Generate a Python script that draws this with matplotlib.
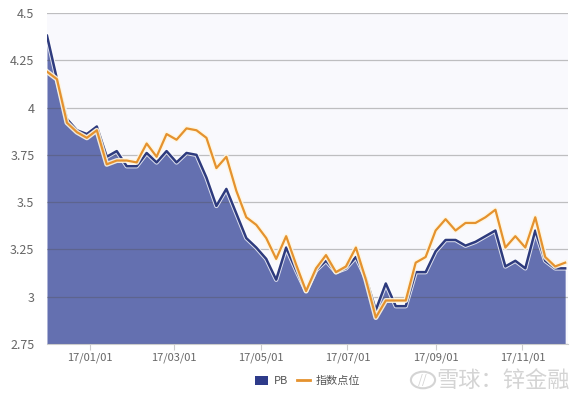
import matplotlib
matplotlib.use("Agg")
import matplotlib.pyplot as plt
import matplotlib.dates as mdates
import matplotlib.patheffects as pe
from matplotlib.patches import FancyBboxPatch, Circle
from matplotlib.lines import Line2D
import numpy as np
import pandas as pd

plt.rcParams['font.family'] = ['Noto Sans CJK SC', 'DejaVu Sans']

start_date = "2016-12-02"
pb = [4.38, 4.15, 3.94, 3.88, 3.86, 3.90, 3.74, 3.77, 3.69, 3.69,
      3.76, 3.71, 3.77, 3.71, 3.76, 3.75, 3.63, 3.48, 3.57, 3.44,
      3.31, 3.26, 3.20, 3.09, 3.26, 3.14, 3.03, 3.14, 3.19, 3.13,
      3.15, 3.21, 3.10, 2.93, 3.07, 2.95, 2.95, 3.13, 3.13, 3.24,
      3.30, 3.30, 3.27, 3.29, 3.32, 3.35, 3.16, 3.19, 3.15, 3.35,
      3.19, 3.15, 3.15]
index_pts = [4.19, 4.15, 3.92, 3.87, 3.84, 3.88, 3.70, 3.72, 3.72, 3.71,
             3.81, 3.74, 3.86, 3.83, 3.89, 3.88, 3.84, 3.68, 3.74, 3.56,
             3.42, 3.38, 3.31, 3.20, 3.32, 3.17, 3.03, 3.15, 3.22, 3.13,
             3.16, 3.26, 3.09, 2.89, 2.98, 2.98, 2.98, 3.18, 3.21, 3.35,
             3.41, 3.35, 3.39, 3.39, 3.42, 3.46, 3.26, 3.32, 3.26, 3.42,
             3.21, 3.16, 3.18]
dates = pd.date_range(start_date, periods=len(pb), freq="7D")
x_ticks = ["2017-01-01", "2017-03-01", "2017-05-01", "2017-07-01", "2017-09-01", "2017-11-01"]
y_ticks = [2.75, 3.0, 3.25, 3.5, 3.75, 4.0, 4.25, 4.5]
y_labels = ["2.75", "3", "3.25", "3.5", "3.75", "4", "4.25", "4.5"]
series_names = ["PB", "指数点位"]

fig = plt.figure(figsize=(5.75, 3.94), dpi=100)
fig.patch.set_facecolor("white")
ax = fig.add_axes([47/575, 1-344/394, (568-47)/575, (344-13)/394])
ax.set_facecolor("#f9f9fd")

fill_c = "#6470b0"
line_c = "#2e3b7e"
orange = "#e5922e"

ax.fill_between(dates, 2.75, pb, color=fill_c, zorder=1, linewidth=0)
ax.plot(dates, pb, color=line_c, lw=1.8, zorder=3,
        path_effects=[pe.Stroke(linewidth=3.2, foreground="white", alpha=0.8), pe.Normal()])
ax.plot(dates, index_pts, color=orange, lw=1.6, zorder=4,
        path_effects=[pe.Stroke(linewidth=3.6, foreground="#fff6e0", alpha=0.9), pe.Normal()])

for yv in y_ticks:
    ax.axhline(yv, color="#505050", alpha=0.35, lw=0.9, zorder=2)

ax.set_ylim(2.75, 4.5)
ax.set_xlim(pd.Timestamp(start_date), pd.Timestamp("2017-12-03"))
ax.set_yticks(y_ticks)
ax.set_yticklabels(y_labels)
ax.set_xticks(pd.to_datetime(x_ticks))
ax.xaxis.set_major_formatter(mdates.DateFormatter("%y/%m/%d"))
ax.tick_params(axis="y", length=0, pad=9, labelsize=9, labelcolor="#666666")
ax.tick_params(axis="x", length=4, color="#cccccc", pad=2, labelsize=8, labelcolor="#666666")
for s in ["top", "right", "left"]:
    ax.spines[s].set_visible(False)
ax.spines["bottom"].set_color("#cccccc")

# legend
h1 = FancyBboxPatch((0, 0), 1, 1, boxstyle="round,pad=0.1", fc="#2e3b8a", ec="none")
h2 = Line2D([0], [0], color=orange, lw=2)
leg = fig.legend([h1, h2], series_names, loc="center", bbox_to_anchor=(0.535, 0.033),
                 ncol=2, frameon=False, fontsize=8, handlelength=1.2, handleheight=0.9,
                 columnspacing=0.8, handletextpad=0.5)
for t in leg.get_texts():
    t.set_color("#555555")

# watermark
fig.text(503/575, 1-380/394, "雪球：锌金融", fontsize=16, color="#d4d4d4", ha="center", va="center")
fig.patches.append(Circle((423/575, 1-380/394), 0.021, transform=fig.transFigure,
                          fill=False, ec="#d4d4d4", lw=1.5))
fig.text(423/575, 1-380/394, "//", fontsize=9, color="#d4d4d4", ha="center", va="center",
         style="italic")

fig.savefig("out.png", dpi=100)
